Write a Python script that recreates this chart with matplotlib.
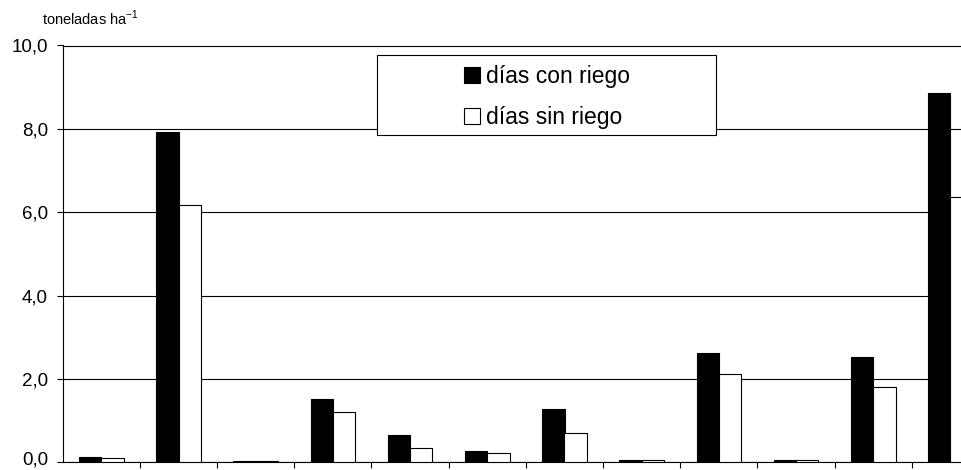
import matplotlib
matplotlib.use('Agg')
import matplotlib.pyplot as plt
import matplotlib.transforms as mtransforms
import numpy as np
from matplotlib.patches import Rectangle, Patch

# values per category (t/ha)
con_riego = [0.13, 7.93, 0.04, 1.51, 0.66, 0.27, 1.27, 0.06, 2.63, 0.06, 2.53, 8.87]
sin_riego = [0.10, 6.17, 0.04, 1.20, 0.34, 0.23, 0.70, 0.06, 2.13, 0.06, 1.80, 6.37]
y_ticks = [0, 2, 4, 6, 8, 10]
y_labels = ['0,0', '2,0', '4,0', '6,0', '8,0', '10,0']

plt.rcParams['font.family'] = ['Liberation Sans', 'DejaVu Sans']

fig = plt.figure(figsize=(9.61, 4.70), dpi=100)
# axes runs past the right edge, last pair of bars is cut off like in the original
ax = fig.add_axes([62.7 / 961, 7.7 / 470, (961 - 62.7) / 961, 416.8 / 470])

x = np.arange(len(con_riego))
w = 0.29
ax.bar(x - w / 2, con_riego, w, color='black', edgecolor='black', linewidth=0.8, zorder=3)
ax.bar(x + w / 2, sin_riego, w, color='white', edgecolor='black', linewidth=0.8, zorder=3)

ax.set_xlim(-0.5, -0.5 + (961 - 62.7) / 77.2)
ax.set_ylim(0, 10)
ax.set_yticks(y_ticks)
ax.set_yticklabels(y_labels, fontsize=13.5)
ax.set_xticks(np.arange(0.5, 11.5, 1))
ax.set_xticklabels([])
ax.tick_params(axis='both', direction='out', length=4.5, width=0.8, color='black')
ax.tick_params(axis='y', pad=6)
ax.yaxis.grid(True, color='black', linewidth=0.8, zorder=0)
ax.set_axisbelow(True)
ax.spines['right'].set_visible(False)
for s in ['left', 'bottom', 'top']:
    ax.spines[s].set_linewidth(0.8)

# lift the 0,0 label a little so it is not cut at the bottom
lbl0 = ax.get_yticklabels()[0]
lbl0.set_transform(lbl0.get_transform() + mtransforms.ScaledTranslation(0, 4 / 100, fig.dpi_scale_trans))

fig.text(42 / 961, 1 - 25 / 470, 'toneladas ha$^{\\mathregular{-1}}$', fontsize=10.5,
         va='baseline', ha='left')

# legend box
fig.patches.append(Rectangle((377 / 961, 1 - 135 / 470), (716 - 377) / 961, 80 / 470,
                             transform=fig.transFigure, facecolor='white',
                             edgecolor='black', linewidth=0.8, zorder=5))
handles = [Patch(facecolor='black', edgecolor='black', linewidth=0.8),
           Patch(facecolor='white', edgecolor='black', linewidth=0.8)]
leg = fig.legend(handles, ['días con riego', 'días sin riego'], loc='center',
                 bbox_to_anchor=(547 / 961, 1 - 97 / 470), frameon=False,
                 fontsize=16.5, handlelength=0.7, handleheight=0.7,
                 handletextpad=0.25, labelspacing=0.75)
leg.set_zorder(6)

fig.savefig('out.png', dpi=100)
plt.close(fig)
